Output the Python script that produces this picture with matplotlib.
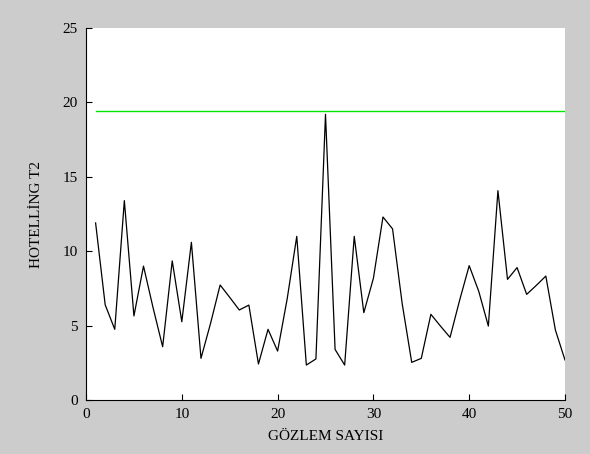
import matplotlib
matplotlib.use('Agg')
import matplotlib.pyplot as plt
import numpy as np

gozlem = list(range(1, 51))
t2 = [11.9, 6.4, 4.75, 13.4, 5.65, 9.0, 6.2, 3.58, 9.35, 5.26,
      10.6, 2.8, 5.15, 7.73, 6.9, 6.05, 6.38, 2.42, 4.75, 3.29,
      6.8, 11.0, 2.35, 2.76, 19.2, 3.4, 2.35, 11.0, 5.87, 8.18,
      12.3, 11.5, 6.5, 2.53, 2.8, 5.76, 4.97, 4.21, 6.7, 9.03,
      7.3, 4.97, 14.07, 8.11, 8.9, 7.1, 7.7, 8.33, 4.7, 2.69]
ucl = 19.42
ucl_x = [1, 50]

plt.rcParams['font.family'] = ['Liberation Serif', 'DejaVu Serif']

fig = plt.figure(figsize=(5.9, 4.54), dpi=100, facecolor='#cccccc')
ax = fig.add_axes([0.1458, 0.1189, 0.8118, 0.8194])
ax.set_facecolor('white')

ax.plot(gozlem, t2, color='black', lw=0.9)
ax.plot(ucl_x, [ucl, ucl], color='#00e600', lw=1.0)

ax.set_xlim(0, 50)
ax.set_ylim(0, 25)
ax.set_xticks(np.arange(0, 51, 10))
ax.set_yticks(np.arange(0, 26, 5))
ax.spines['top'].set_visible(False)
ax.spines['right'].set_visible(False)
ax.tick_params(direction='in', length=4, labelsize=11)
ax.tick_params(axis='x', pad=6)
ax.tick_params(axis='y', pad=6)

ax.set_xlabel('GÖZLEM SAYISI', fontsize=11, labelpad=6)
ax.set_ylabel('HOTELLİNG T2', fontsize=11, labelpad=14)

fig.savefig('out.png', dpi=100, facecolor=fig.get_facecolor())
